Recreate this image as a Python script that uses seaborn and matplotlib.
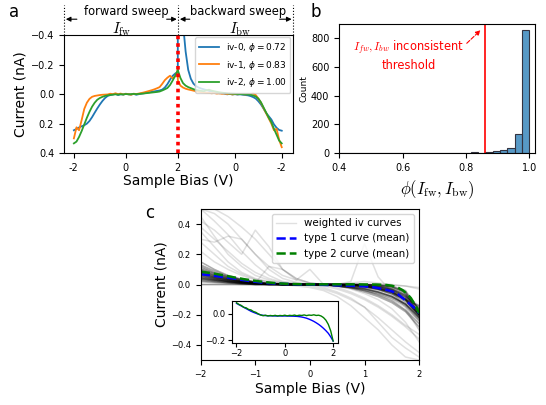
import numpy as np
import pandas as pd
import matplotlib
matplotlib.use("Agg")
import matplotlib.pyplot as plt
import matplotlib.transforms as mtransforms
from matplotlib.lines import Line2D
import seaborn as sns

# ---------------- (a) forward / backward sweeps ----------------
# position along the sweep: forward -2 V -> 2 V, backward 2 V -> -2 V
pos_fw = np.round(np.arange(-2.0, 2.0001, 0.1), 2)
pos_bw = np.round(np.arange(2.0, 6.0001, 0.1), 2)
sweep_tick_pos = [-2, 0, 2, 4.2, 6]
sweep_tick_labels = ["-2", "0", "2", "0", "-2"]

iv0_fw = [0.245, 0.236, 0.226, 0.218, 0.211, 0.200, 0.182, 0.156, 0.126, 0.097,
          0.070, 0.046, 0.026, 0.012, 0.006, 0.003, -0.002, 0.006, 0.001, 0.003,
          -0.003, 0.001, 0.003, -0.002, 0.004, 0.000, -0.004, -0.006, -0.010, -0.012,
          -0.016, -0.019, -0.022, -0.025, -0.031, -0.045, -0.068, -0.098, -0.124, -0.140,
          -0.150]
iv0_bw = [-1.500, -0.900, -0.480, -0.290, -0.165, -0.105, -0.072, -0.055, -0.045, -0.038,
          -0.033, -0.028, -0.022, -0.018, -0.012, -0.010, -0.006, -0.008, -0.003, 0.001,
          -0.002, 0.002, 0.000, 0.003, 0.001, 0.004, 0.006, 0.008, 0.013, 0.020,
          0.030, 0.048, 0.070, 0.098, 0.128, 0.150, 0.172, 0.205, 0.228, 0.243,
          0.248]
iv1_fw = [0.300, 0.225, 0.245, 0.175, 0.100, 0.058, 0.032, 0.018, 0.012, 0.009,
          0.006, 0.004, 0.003, 0.002, -0.003, 0.000, -0.006, 0.000, -0.004, 0.002,
          -0.002, 0.000, 0.004, -0.003, -0.001, -0.004, -0.008, -0.012, -0.017, -0.022,
          -0.027, -0.033, -0.040, -0.048, -0.070, -0.095, -0.112, -0.125, -0.108, -0.122,
          -0.165]
iv1_bw = [-0.095, -0.058, -0.045, -0.037, -0.032, -0.028, -0.024, -0.019, -0.016, -0.013,
          -0.012, -0.010, -0.009, -0.006, -0.008, -0.004, -0.006, -0.002, -0.005, 0.000,
          -0.003, 0.002, -0.001, 0.001, -0.002, 0.000, 0.002, -0.001, 0.000, -0.004,
          0.006, 0.030, 0.058, 0.095, 0.130, 0.165, 0.200, 0.245, 0.235, 0.310,
          0.360]
iv2_fw = [0.334, 0.322, 0.290, 0.250, 0.205, 0.160, 0.120, 0.085, 0.058, 0.038,
          0.026, 0.018, 0.012, 0.008, 0.005, 0.003, 0.001, 0.003, 0.000, 0.002,
          -0.001, 0.001, 0.000, -0.002, 0.000, -0.002, -0.003, -0.005, -0.007, -0.009,
          -0.011, -0.013, -0.015, -0.018, -0.025, -0.033, -0.042, -0.062, -0.092, -0.125,
          -0.163]
iv2_bw = [-0.163, -0.110, -0.075, -0.058, -0.048, -0.041, -0.034, -0.028, -0.025, -0.022,
          -0.020, -0.026, -0.030, -0.024, -0.020, -0.016, -0.013, -0.010, -0.008, -0.006,
          -0.004, -0.003, -0.002, -0.001, 0.000, 0.000, 0.001, 0.002, 0.004, 0.009,
          0.016, 0.030, 0.055, 0.090, 0.125, 0.160, 0.190, 0.235, 0.275, 0.315,
          0.334]
iv_labels = [r"iv-0, $\phi = 0.72$", r"iv-1, $\phi = 0.83$", r"iv-2, $\phi = 1.00$"]
iv_colors = ["#1f77b4", "#ff7f0e", "#2ca02c"]

# ---------------- (b) histogram of consistency scores ----------------
phi_edges = np.linspace(0.4, 1.0, 27)
phi_counts = [0, 0, 0, 0, 2, 1, 0, 1, 0, 1, 2, 3, 4, 2, 3, 4, 2, 4, 7, 3,
              8, 14, 22, 36, 133, 855]
phi_threshold = 0.86

# ---------------- (c) weighted iv curves and type means ----------------
bias_c = [-2.0, -1.75, -1.5, -1.25, -1.0, -0.75, -0.5, -0.25, 0.0,
          0.25, 0.5, 0.75, 1.0, 1.25, 1.5, 1.75, 2.0]
iv_curves = [
    [0.06, 0.04, 0.025, 0.015, 0.01, 0.005, 0, 0, 0, 0, -0.005, -0.01, -0.02, -0.035, -0.06, -0.11, -0.2],
    [0.08, 0.05, 0.03, 0.02, 0.01, 0.005, 0, 0, 0, 0, 0, 0, 0, -0.005, -0.015, -0.05, -0.2],
    [0.04, 0.03, 0.02, 0.01, 0.005, 0, 0, 0, 0, 0, -0.01, -0.02, -0.04, -0.06, -0.09, -0.14, -0.24],
    [0.1, 0.07, 0.045, 0.025, 0.012, 0.005, 0, 0, 0, 0, 0, -0.005, -0.01, -0.02, -0.04, -0.09, -0.18],
    [0.02, 0.015, 0.01, 0.005, 0, 0, 0, 0, 0, 0, -0.01, -0.025, -0.05, -0.08, -0.12, -0.18, -0.28],
    [0.12, 0.08, 0.05, 0.03, 0.015, 0.005, 0, 0, 0, 0, 0, 0, -0.005, -0.01, -0.03, -0.07, -0.16],
    [0.07, 0.045, 0.03, 0.015, 0.008, 0.003, 0, 0, 0, 0, -0.003, -0.008, -0.015, -0.03, -0.05, -0.1, -0.22],
    [0.05, 0.035, 0.02, 0.01, 0.005, 0, 0, 0, 0, -0.005, -0.01, -0.02, -0.03, -0.05, -0.08, -0.13, -0.21],
    [0.09, 0.06, 0.04, 0.02, 0.01, 0, 0, 0, 0, 0, 0, 0, 0, 0, -0.01, -0.04, -0.17],
    [0.03, 0.02, 0.012, 0.006, 0.003, 0, 0, 0, 0, 0, -0.01, -0.02, -0.04, -0.07, -0.11, -0.17, -0.26],
    [0.11, 0.075, 0.05, 0.03, 0.015, 0.005, 0, 0, 0, 0, 0, -0.005, -0.01, -0.025, -0.05, -0.1, -0.2],
    [0.065, 0.045, 0.03, 0.018, 0.009, 0.004, 0, 0, 0, 0, 0, 0, 0, -0.005, -0.02, -0.06, -0.19],
    [0.0, 0.0, 0.0, 0, 0, 0, 0, 0, 0, 0, 0, 0, -0.01, -0.03, -0.06, -0.1, -0.14],
    [0.15, 0.1, 0.06, 0.035, 0.018, 0.008, 0.002, 0, 0, 0, 0, 0, -0.01, -0.02, -0.04, -0.08, -0.15],
    [0.08, 0.055, 0.035, 0.02, 0.01, 0.004, 0, 0, 0, 0, -0.005, -0.015, -0.03, -0.05, -0.08, -0.13, -0.23],
    [0.045, 0.03, 0.02, 0.012, 0.006, 0.002, 0, 0, 0, 0, 0, -0.004, -0.012, -0.025, -0.05, -0.1, -0.2],
    [0.075, 0.05, 0.033, 0.02, 0.01, 0.004, 0, 0, 0, 0, 0, 0, -0.004, -0.012, -0.03, -0.07, -0.19],
    [0.055, 0.038, 0.024, 0.014, 0.007, 0.003, 0, 0, 0, 0, -0.002, -0.006, -0.014, -0.028, -0.05, -0.095, -0.2],
    [0.09, 0.062, 0.04, 0.024, 0.012, 0.005, 0.001, 0, 0, 0, 0, -0.002, -0.006, -0.015, -0.035, -0.08, -0.21],
    [0.035, 0.025, 0.016, 0.009, 0.004, 0.001, 0, 0, 0, 0, -0.006, -0.014, -0.028, -0.05, -0.08, -0.13, -0.22],
    [0.13, 0.09, 0.055, 0.032, 0.016, 0.006, 0.001, 0, 0, 0, 0, 0, 0, -0.004, -0.015, -0.05, -0.17],
    [0.45, 0.32, 0.2, 0.12, 0.06, 0.03, 0.01, 0, 0, 0, 0, -0.01, -0.02, -0.04, -0.07, -0.12, -0.2],
    [0.5, 0.42, 0.33, 0.22, 0.13, 0.06, 0.02, 0.01, 0, 0, 0, 0, -0.01, -0.02, -0.05, -0.1, -0.18],
    [0.35, 0.25, 0.15, 0.08, 0.04, 0.02, 0.01, 0, 0, 0, -0.01, -0.02, -0.04, -0.07, -0.1, -0.15, -0.25],
    [0.5, 0.5, 0.45, 0.38, 0.3, 0.2, 0.1, 0.04, 0.01, 0, 0, 0, 0, -0.01, -0.03, -0.08, -0.16],
    [0.28, 0.2, 0.12, 0.07, 0.035, 0.015, 0.005, 0, 0, 0, 0, -0.01, -0.03, -0.06, -0.1, -0.17, -0.3],
    [0.42, 0.36, 0.28, 0.2, 0.36, 0.25, 0.1, 0.04, 0.01, 0, 0, 0, -0.005, -0.015, -0.04, -0.09, -0.2],
    [0.22, 0.15, 0.1, 0.06, 0.03, 0.015, 0.005, 0, 0, 0, 0, 0, -0.01, -0.03, -0.06, -0.12, -0.22],
    [0.5, 0.47, 0.4, 0.3, 0.2, 0.12, 0.06, 0.03, 0.01, 0, -0.01, -0.03, -0.06, -0.1, -0.16, -0.25, -0.38],
    [0.3, 0.28, 0.32, 0.3, 0.2, 0.1, 0.04, 0.015, 0, 0, 0, 0, 0, -0.01, -0.03, -0.07, -0.14],
    [0.38, 0.3, 0.22, 0.14, 0.08, 0.04, 0.015, 0.005, 0, 0, 0, 0, -0.005, -0.02, -0.045, -0.1, -0.2],
    [0.05, 0.03, 0.02, 0.01, 0, 0, 0, 0, -0.01, -0.03, -0.06, -0.1, -0.15, -0.22, -0.3, -0.38, -0.45],
    [0.03, 0.02, 0.01, 0.005, 0, 0, 0, -0.01, -0.02, -0.04, -0.08, -0.14, -0.22, -0.3, -0.4, -0.48, -0.5],
    [0.1, 0.06, 0.04, 0.02, 0.01, 0, 0, 0, 0, -0.01, -0.03, -0.06, -0.1, -0.15, -0.21, -0.28, -0.36],
    [0.06, 0.04, 0.02, 0.01, 0.005, 0, 0, 0, 0, -0.02, -0.05, -0.09, -0.15, -0.25, -0.35, -0.42, -0.48],
    [0.02, 0.01, 0.005, 0, 0, 0, 0, 0, 0, 0, -0.02, -0.05, -0.09, -0.14, -0.2, -0.27, -0.33],
    [0.0, 0, 0, 0, 0, 0, 0, 0, 0, 0, 0, 0, 0, 0, -0.005, -0.01, -0.03],
    [0.04, 0.025, 0.015, 0.005, 0, 0, 0, 0, 0, 0, 0, 0.01, 0.02, 0.01, 0, -0.01, -0.02],
    [0.1, 0.07, 0.04, 0.02, 0.01, 0.12, 0.1, 0.03, 0.1, 0, 0, 0, -0.01, -0.03, -0.07, -0.13, -0.22],
    [0.04, 0.03, 0.02, 0.01, 0, 0, 0, 0, 0, 0, 0, 0.02, 0.27, 0.05, -0.05, -0.15, -0.3],
]
# drawing weight (opacity) of each curve: typical curves heavy, outliers light
curve_weights = [0.32] * 21 + [0.12] * 19

bias_mean = [-2.0, -1.8, -1.6, -1.4, -1.2, -1.0, -0.8, -0.6, -0.4, -0.2, 0.0, 0.2, 0.4,
             0.6, 0.8, 1.0, 1.2, 1.4, 1.5, 1.6, 1.7, 1.8, 1.85, 1.9, 1.95, 2.0]
type1_mean = [0.068, 0.06, 0.05, 0.04, 0.028, 0.018, 0.01, 0.006, 0.003, 0.001, 0.0,
              -0.002, -0.004, -0.006, -0.009, -0.012, -0.02, -0.035, -0.045, -0.06,
              -0.09, -0.12, -0.135, -0.15, -0.168, -0.19]
type2_mean = [0.085, 0.075, 0.062, 0.048, 0.035, 0.024, 0.015, 0.008, 0.004, 0.002, 0.001,
              0.001, 0.001, 0.001, 0.001, 0.0, 0.0, -0.003, -0.008, -0.018, -0.038,
              -0.07, -0.09, -0.12, -0.15, -0.19]

bias_inset = np.round(np.arange(-2.0, 2.0001, 0.1), 2)
type1_inset = [0.080, 0.070, 0.060, 0.050, 0.040, 0.030, 0.020, 0.012, 0.005, -0.002,
               -0.008, -0.011, -0.013, -0.014, -0.015, -0.015, -0.016, -0.016, -0.016, -0.016,
               -0.016, -0.016, -0.017, -0.017, -0.018, -0.019, -0.021, -0.024, -0.028, -0.033,
               -0.040, -0.048, -0.057, -0.068, -0.080, -0.094, -0.110, -0.128, -0.148, -0.175,
               -0.207]
type2_inset = [0.085, 0.072, 0.064, 0.050, 0.046, 0.034, 0.030, 0.018, 0.012, 0.000,
               -0.008, -0.014, -0.010, -0.016, -0.012, -0.015, -0.011, -0.016, -0.012, -0.014,
               -0.010, -0.015, -0.011, -0.013, -0.009, -0.014, -0.010, -0.012, -0.008, -0.013,
               -0.009, -0.011, -0.007, -0.012, -0.010, -0.016, -0.028, -0.048, -0.080, -0.130,
               -0.207]

# ---------------- figure ----------------
fig = plt.figure(figsize=(5.46, 4.05), dpi=100)
ax_a = fig.add_axes([0.117, 0.622, 0.419, 0.291])
ax_b = fig.add_axes([0.621, 0.622, 0.359, 0.319])
ax_c = fig.add_axes([0.3676, 0.111, 0.400, 0.373])
ax_in = fig.add_axes([0.4243, 0.153, 0.1947, 0.1044])

# (a)
for fw, bw, lab, col in zip([iv0_fw, iv1_fw, iv2_fw], [iv0_bw, iv1_bw, iv2_bw],
                            iv_labels, iv_colors):
    df = pd.DataFrame({"pos": np.concatenate([pos_fw, pos_bw]),
                       "current": np.concatenate([fw, bw])})
    sns.lineplot(data=df, x="pos", y="current", ax=ax_a, color=col, lw=1.3,
                 label=lab, estimator=None, sort=False)
ax_a.axvline(2, color="red", ls=(0, (1, 1.1)), lw=2.6, zorder=5)
ax_a.set_xlim(-2.385, 6.42)
ax_a.set_ylim(0.4, -0.4)
ax_a.set_yticks([-0.4, -0.2, 0.0, 0.2, 0.4])
ax_a.set_xticks(sweep_tick_pos)
ax_a.set_xticklabels(sweep_tick_labels)
ax_a.tick_params(labelsize=7)
ax_a.set_xlabel("Sample Bias (V)", fontsize=10, labelpad=1)
ax_a.set_ylabel("Current (nA)", fontsize=10, labelpad=2)
ax_a.legend(loc="upper right", fontsize=6.5, borderaxespad=0.25, handlelength=2.2)

trans = mtransforms.blended_transform_factory(ax_a.transData, ax_a.transAxes)
for xp in [-2.385, 2, 6.42]:
    ax_a.plot([xp, xp], [1.0, 1.254], transform=trans, color="k", ls=":", lw=0.8,
              clip_on=False)
arrow_kw = dict(arrowstyle="-|>", color="k", lw=0.8, mutation_scale=7,
                shrinkA=0, shrinkB=0)
for x0, x1 in [(-1.885, -2.31), (1.57, 1.96), (2.46, 2.08), (5.92, 6.38)]:
    ax_a.annotate("", xy=(x1, 1.136), xytext=(x0, 1.136), xycoords=trans,
                  textcoords=trans, arrowprops=arrow_kw, annotation_clip=False)
ax_a.text(0.0, 1.2, "forward sweep", transform=trans, ha="center", va="center",
          fontsize=8.3)
ax_a.text(4.3, 1.2, "backward sweep", transform=trans, ha="center", va="center",
          fontsize=8.3)
ax_a.text(-0.15, 1.055, r"$I_{\rm fw}$", transform=trans, ha="center", va="center",
          fontsize=11, math_fontfamily="cm")
ax_a.text(4.38, 1.055, r"$I_{\rm bw}$", transform=trans, ha="center", va="center",
          fontsize=11, math_fontfamily="cm")

# (b)
hist_df = pd.DataFrame({"phi": (phi_edges[:-1] + phi_edges[1:]) / 2,
                        "count": phi_counts})
sns.histplot(data=hist_df, x="phi", weights="count", bins=list(phi_edges), ax=ax_b,
             edgecolor=(0.2, 0.2, 0.25), linewidth=0.8)
ax_b.axvline(phi_threshold, color="red", lw=1.2)
ax_b.set_xlim(0.4, 1.018)
ax_b.set_ylim(0, 900)
ax_b.set_yticks([0, 200, 400, 600, 800])
ax_b.tick_params(labelsize=7)
ax_b.set_ylabel("Count", fontsize=6.5, labelpad=2)
ax_b.set_xlabel(r"$\phi(I_{\rm fw}, I_{\rm bw})$", fontsize=12, math_fontfamily="cm",
                labelpad=4)
ax_b.annotate(r"$I_{fw}, I_{bw}$ inconsistent" + "\nthreshold",
              xy=(0.846, 856), xytext=(0.619, 681), ha="center", va="center",
              color="red", fontsize=8.3, math_fontfamily="cm",
              arrowprops=dict(arrowstyle="-|>", color="red", ls="--", lw=0.8,
                              relpos=(1.0, 0.78), mutation_scale=7,
                              shrinkA=0, shrinkB=0))

# (c)
for curve, weight in zip(iv_curves, curve_weights):
    sns.lineplot(x=bias_c, y=curve, ax=ax_c, color="k", alpha=weight, lw=1.1,
                 estimator=None, sort=False)
sns.lineplot(x=bias_mean, y=type1_mean, ax=ax_c, color="blue", ls="--", lw=1.8)
sns.lineplot(x=bias_mean, y=type2_mean, ax=ax_c, color="green", ls="--", lw=1.8)
ax_c.set_xlim(-2, 2)
ax_c.set_ylim(-0.5, 0.5)
ax_c.set_xticks([-2, -1, 0, 1, 2])
ax_c.set_yticks([-0.4, -0.2, 0.0, 0.2, 0.4])
ax_c.tick_params(labelsize=6)
ax_c.set_xlabel("Sample Bias (V)", fontsize=10, labelpad=2)
ax_c.set_ylabel("Current (nA)", fontsize=10, labelpad=2)
handles = [Line2D([], [], color="k", alpha=0.12, lw=1),
           Line2D([], [], color="blue", ls="--", lw=1.8),
           Line2D([], [], color="green", ls="--", lw=1.8)]
ax_c.legend(handles, ["weighted iv curves", "type 1 curve (mean)", "type 2 curve (mean)"],
            loc="upper right", fontsize=7.4)

sns.lineplot(x=bias_inset, y=type1_inset, ax=ax_in, color="blue", lw=1)
sns.lineplot(x=bias_inset, y=type2_inset, ax=ax_in, color="green", lw=1)
ax_in.set_xlim(-2.2, 2.2)
ax_in.set_ylim(-0.222, 0.1)
ax_in.set_xticks([-2, 0, 2])
ax_in.set_yticks([0.0, -0.2])
ax_in.tick_params(labelsize=6, length=3, pad=1.5)
ax_in.set_xlabel("")
ax_in.set_ylabel("")

fig.text(0.026, 0.970, "a", fontsize=12, ha="center", va="center")
fig.text(0.579, 0.970, "b", fontsize=12, ha="center", va="center")
fig.text(0.275, 0.474, "c", fontsize=12, ha="center", va="center")

fig.savefig("out.png", dpi=100)
